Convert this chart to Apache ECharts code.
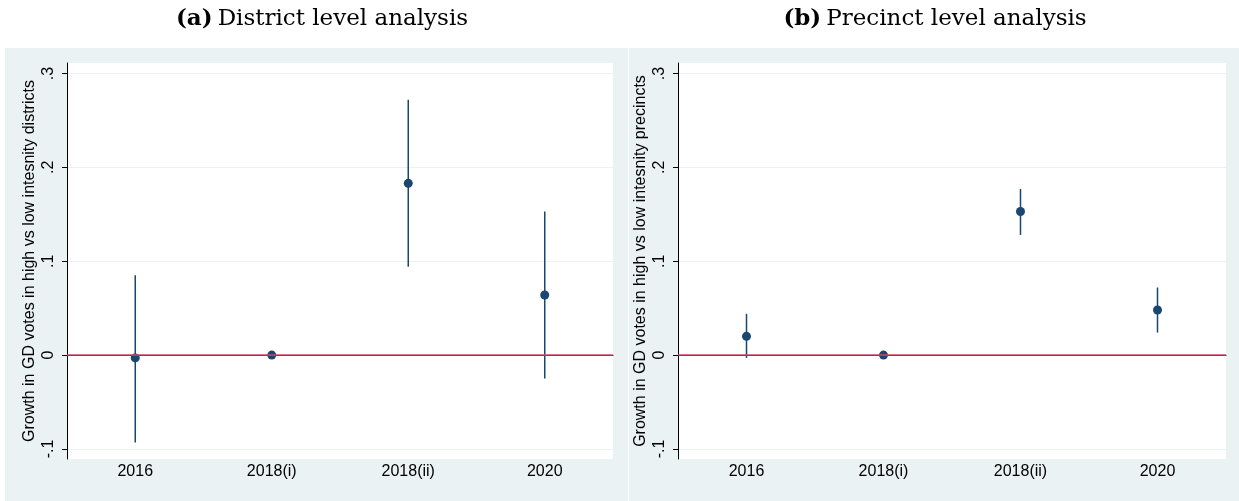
<!DOCTYPE html>
<html><head><meta charset="utf-8">
<script src="https://cdn.jsdelivr.net/npm/echarts@6/dist/echarts.min.js"></script>
<style>html,body{margin:0;padding:0;background:#fff}#c{width:1239px;height:501px}</style>
</head><body><div id="c"></div>
<script>
const categories = ['2016', '2018(i)', '2018(ii)', '2020'];
const districtPoint = [-0.003, 0, 0.183, 0.064];
const districtLow = [-0.093, 0, 0.094, -0.025];
const districtHigh = [0.085, 0, 0.272, 0.153];
const precinctPoint = [0.020, 0, 0.153, 0.048];
const precinctLow = [-0.003, 0, 0.128, 0.024];
const precinctHigh = [0.044, 0, 0.177, 0.072];
const yTicks = [-0.1, 0, 0.1, 0.2, 0.3];
const yTickLabels = ['-.1', '0', '.1', '.2', '.3'];
const panelTags = ['(a)', '(b)'];
const panelTitles = ['District level analysis', 'Precinct level analysis'];
const yNames = ['Growth in GD votes in high vs low intesnity districts',
                'Growth in GD votes in high vs low intesnity precincts'];

const NAVY = '#1a476f', BG = '#eaf2f3', RED = '#cc4766';
const SANS = 'Liberation Sans, Arial, sans-serif';
const SERIF = 'DejaVu Serif, serif';
const Y_MIN = -0.1107, Y_MAX = 0.3112;

const chart = echarts.init(document.getElementById('c'), null, {renderer: 'canvas'});

const grids = [
  {left: 67, top: 63, width: 546, height: 396},
  {left: 678, top: 63, width: 548, height: 396}
];
const panelCenters = [317, 930];

function labelFor(v) {
  for (let i = 0; i < yTicks.length; i++) if (Math.abs(yTicks[i] - v) < 1e-9) return yTickLabels[i];
  return '';
}

function errRender(params, api) {
  const i = api.value(0);
  const lo = api.coord([i, api.value(1)]);
  const hi = api.coord([i, api.value(2)]);
  if (Math.abs(lo[1] - hi[1]) < 0.5) return null;
  return {type: 'line', shape: {x1: lo[0], y1: lo[1], x2: hi[0], y2: hi[1]},
          style: {stroke: NAVY, lineWidth: 1.5}};
}

const sets = [[districtPoint, districtLow, districtHigh], [precinctPoint, precinctLow, precinctHigh]];

const option = {
  animation: false,
  graphic: [
    {type: 'rect', shape: {x: 5, y: 48, width: 623, height: 453}, style: {fill: BG}, z: -10},
    {type: 'rect', shape: {x: 629, y: 48, width: 610, height: 453}, style: {fill: BG}, z: -10}
  ],
  title: panelTitles.map((t, k) => ({
    text: '{b|' + panelTags[k] + '} {n|' + t + '}',
    left: panelCenters[k], top: 3, textAlign: 'center',
    textStyle: {fontWeight: 'normal', rich: {
      b: {fontFamily: SERIF, fontWeight: 'bold', fontSize: 23, color: '#000'},
      n: {fontFamily: SERIF, fontWeight: 'normal', fontSize: 23, color: '#000'}
    }}
  })),
  grid: grids.map(g => Object.assign({show: true, backgroundColor: '#fff', borderWidth: 0}, g)),
  xAxis: [0, 1].map(k => ({
    type: 'category', gridIndex: k, data: categories, boundaryGap: true,
    axisLine: {lineStyle: {color: '#000', width: 1}},
    axisTick: {show: false},
    axisLabel: {fontFamily: SANS, fontSize: 16, color: '#000', margin: 5},
    splitLine: {show: false}
  })),
  yAxis: [0, 1].map(k => ({
    type: 'value', gridIndex: k, min: Y_MIN, max: Y_MAX,
    name: yNames[k], nameLocation: 'middle', nameGap: 29, nameRotate: 90,
    nameTextStyle: {fontFamily: SANS, fontSize: 16, color: '#000'},
    axisLine: {show: true, lineStyle: {color: '#000', width: 1}},
    axisTick: {show: true, length: 5, customValues: yTicks, lineStyle: {color: '#000'}},
    axisLabel: {customValues: yTicks, rotate: 90, margin: 10, fontFamily: SANS, fontSize: 16, color: '#000',
                formatter: v => labelFor(v)},
    splitLine: {show: true, lineStyle: {color: BG, width: 1}}
  })),
  series: []
};

[0, 1].forEach(k => {
  const [pt, lo, hi] = sets[k];
  option.series.push({
    type: 'line', xAxisIndex: k, yAxisIndex: k, data: [], z: 1, silent: true,
    markLine: {silent: true, symbol: 'none', label: {show: false},
               lineStyle: {color: RED, width: 1.6, type: 'solid', opacity: 1},
               data: [{yAxis: 0}]}
  });
  option.series.push({
    type: 'custom', xAxisIndex: k, yAxisIndex: k, z: 2, silent: true,
    renderItem: errRender,
    data: categories.map((c, i) => [i, lo[i], hi[i]])
  });
  option.series.push({
    type: 'scatter', xAxisIndex: k, yAxisIndex: k, z: 3, silent: true,
    symbol: 'circle', symbolSize: 9, itemStyle: {color: NAVY, opacity: 1},
    data: categories.map((c, i) => [i, pt[i]])
  });
});

chart.setOption(option);
</script></body></html>
